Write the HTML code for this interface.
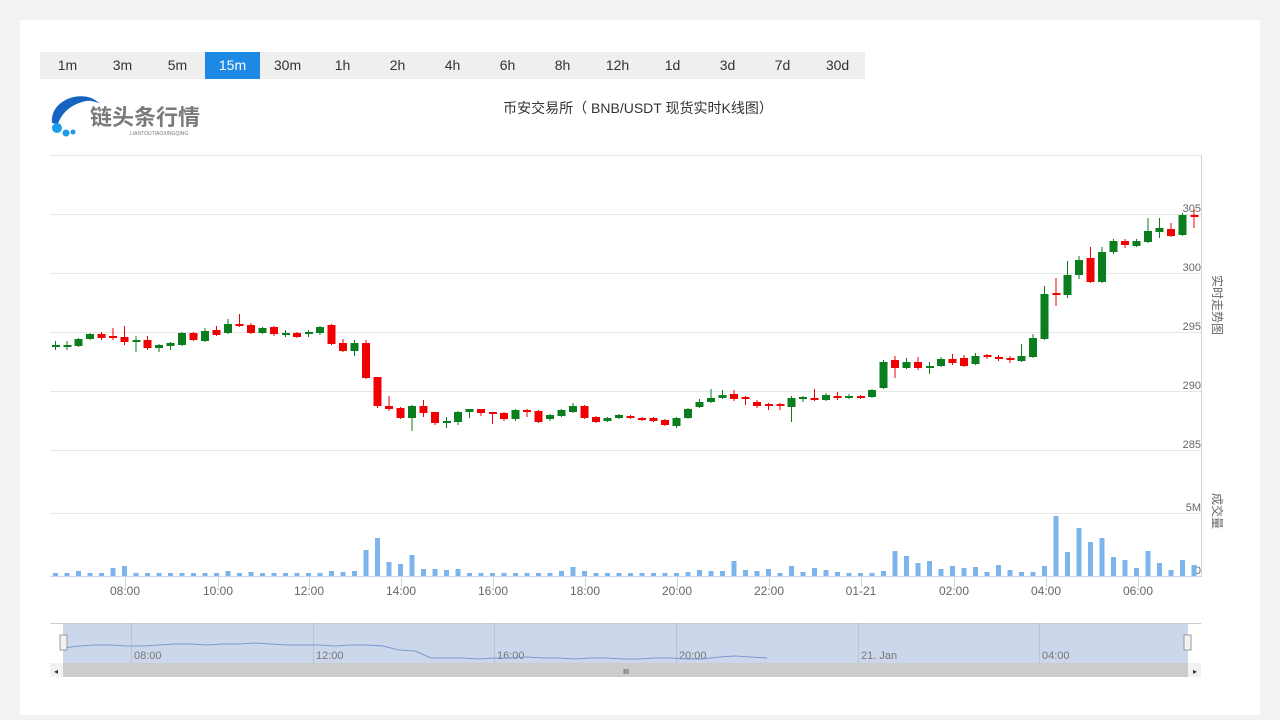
<!DOCTYPE html>
<html><head><meta charset="utf-8">
<style>
body{margin:0;background:#f2f2f2;width:1280px;height:720px;overflow:hidden;font-family:"Liberation Sans","Noto Sans CJK SC",sans-serif;}
#card{position:absolute;left:20px;top:20px;width:1240px;height:695px;background:#fff;}
#btns{position:absolute;left:40px;top:52px;height:27px;width:825px;background:#efefef;}
#btns span{float:left;width:55px;height:27px;line-height:27px;text-align:center;font-size:14px;color:#333;}
#btns span.a{background:#1e88e5;color:#fff;}
svg{position:absolute;left:0;top:0;}
</style></head><body>
<div id="card"></div>
<div id="btns"><span>1m</span><span>3m</span><span>5m</span><span class="a">15m</span><span>30m</span><span>1h</span><span>2h</span><span>4h</span><span>6h</span><span>8h</span><span>12h</span><span>1d</span><span>3d</span><span>7d</span><span>30d</span></div>
<svg id="s" width="1280" height="720" xmlns="http://www.w3.org/2000/svg"></svg>
<script>
var C=[
[346,346,341,350,1],[346,346,341,350,1],[346,339,338,347,1],[339,334,333,340,1],[334,338,332,340,0],[336,338,328,340,0],[337,342,326,345,0],[341,341,336,352,1],[340,348,336,350,0],[348,345,344,352,1],[346,343,342,350,1],[345,333,332,346,1],[333,340,332,341,0],[341,331,328,342,1],[330,335,326,336,0],[333,324,319,334,1],[324,326,314,327,0],[325,333,323,334,0],[333,328,327,334,1],[327,334,326,336,0],[334,334,330,337,1],[333,337,332,338,0],[333,333,330,337,1],[333,327,326,335,1],[325,344,324,345,0],[343,351,339,352,0],[351,343,340,356,1],[343,378,340,379,0],[377,406,377,408,0],[406,409,396,411,0],[408,418,407,419,0],[418,406,405,431,1],[406,413,400,417,0],[412,423,412,425,0],[422,422,417,428,1],[422,412,411,425,1],[412,409,409,418,1],[409,413,409,416,0],[413,414,413,424,0],[413,419,412,421,0],[419,410,409,421,1],[410,412,409,417,0],[411,422,410,423,0],[419,415,414,421,1],[416,410,409,417,1],[412,406,403,413,1],[406,418,405,419,0],[417,422,416,423,0],[421,418,417,422,1],[418,415,414,419,1],[416,418,415,419,0],
[418,420,417,421,0],[418,421,417,422,0],[420,425,419,426,0],[426,418,417,428,1],[418,409,408,419,1],[407,402,399,408,1],[402,398,389,403,1],[398,395,390,399,1],[394,399,390,401,0],[397,399,396,405,0],[402,406,400,408,0],[405,406,403,410,0],[405,406,403,410,0],[407,398,396,422,1],[399,397,396,402,1],[398,400,389,401,0],[400,395,393,401,1],[396,398,392,400,0],[398,396,394,399,1],[397,398,395,399,0],[397,390,389,398,1],[388,362,360,389,1],[360,368,356,378,0],[368,362,358,369,1],[362,368,357,370,0],[367,367,362,374,1],[366,359,357,367,1],[359,363,354,365,0],[358,366,355,367,0],[364,356,353,365,1],[356,357,354,359,0],[358,359,355,361,0],[359,360,356,363,0],[361,356,344,362,1],[357,338,334,358,1],[339,294,286,340,1],[294,295,278,306,0],[295,275,261,298,1],[275,260,256,279,1],[258,282,247,283,0],[282,252,247,283,1],[252,241,239,254,1],[241,245,239,248,0],[246,241,239,247,1],[242,231,218,243,1],[232,228,218,238,1],[229,236,223,237,0],[235,215,213,236,1],[216,217,209,228,0]];
var V=new Array(100).fill(3);
var pk={5:8,6:10,2:5,12:3,15:5,17:4,24:5,25:4,26:5,27:26,28:38,29:14,30:12,31:21,32:7,33:7,34:6,35:7,44:5,45:9,46:5,55:4,56:6,57:5,58:5,59:15,60:6,61:5,62:7,63:3,64:10,65:4,66:8,67:6,68:4,72:5,73:25,74:20,75:13,76:15,77:7,78:10,79:8,80:9,81:4,82:11,83:6,84:4,85:4,86:10,87:60,88:24,89:48,90:34,91:38,92:19,93:16,94:8,95:25,96:13,97:6,98:16,99:11};
for(var k in pk)V[k]=pk[k];
var h='';
function L(x1,y1,x2,y2,c,w){h+='<line x1="'+x1+'" y1="'+y1+'" x2="'+x2+'" y2="'+y2+'" stroke="'+c+'" stroke-width="'+(w||1)+'"/>';}
function T(x,y,t,a,s,c){h+='<text x="'+x+'" y="'+y+'" font-size="'+(s||12)+'" fill="'+(c||'#666')+'" text-anchor="'+(a||'start')+'">'+t+'</text>';}
L(50,155.5,1201,155.5,'#e6e6e6');
[214,273,332,391,450].forEach(function(y){L(50,y+.5,1201,y+.5,'#e6e6e6');});
L(50,513.5,1201,513.5,'#e6e6e6');L(50,576.5,1201,576.5,'#ccd6eb');
L(1201.5,155,1201.5,577,'#c8d4e6');
[['305',212],['300',271],['295',330],['290',389],['285',448]].forEach(function(a){T(1201,a[1],a[0],'end',11);});
T(1201,511,'5M','end',11);T(1201,574,'0','end',11);
h+='<text transform="translate(1213,275) rotate(90)" font-size="12" fill="#666">实时走势图</text>';
h+='<text transform="translate(1213,493) rotate(90)" font-size="12" fill="#666">成交量</text>';
for(var i=0;i<100;i++){var x=55+i*11.5;var c=C[i];var col=c[4]?'#0a7d1e':'#f00000';
 var t=Math.min(c[0],c[1]),b=Math.max(c[0],c[1]);
 L(x+.5,c[2],x+.5,c[3],col,1);
 if(b-t<2){h+='<rect x="'+(x-3)+'" y="'+(t-1)+'" width="8" height="2" fill="'+col+'"/>';}
 else h+='<rect x="'+(x-3.5)+'" y="'+t+'" width="8" height="'+(b-t)+'" fill="'+col+'"/>';
 h+='<rect x="'+(x-2)+'" y="'+(576-V[i])+'" width="5" height="'+V[i]+'" fill="#7cb5ec"/>';}
[['08:00',125],['10:00',218],['12:00',309],['14:00',401],['16:00',493],['18:00',585],['20:00',677],['22:00',769],['01-21',861],['02:00',954],['04:00',1046],['06:00',1138]].forEach(function(a){L(a[1]+.5,577,a[1]+.5,587,'#ccd6eb');T(a[1],595,a[0],'middle',12);});
h+='<rect x="50" y="623" width="1151" height="40" fill="#fff"/><rect x="63" y="623" width="1125" height="40" fill="#cdd7eb"/>';
L(50,623.5,1201,623.5,'#ccc');
[131,313,494,676,858,1039].forEach(function(x){L(x+.5,623,x+.5,663,'#b8c3d8');});
[['08:00',134],['12:00',316],['16:00',497],['20:00',679],['21. Jan',861],['04:00',1042]].forEach(function(a){T(a[1],659,a[0],'start',11,'#777');});
var p='M63,648';var nv=[648,646,645,645,646,646,645,644,644,645,644,644,643,644,645,645,645,646,645,645,646,650,651,658,658,658,659,658,658,657,658,658,659,658,658,659,659,658,658,659,659,657,656,657,658];
for(var j=0;j<nv.length;j++)p+=' L'+(63+j*16)+','+nv[j];
h+='<path d="'+p+'" fill="none" stroke="#7b9ad0" stroke-width="1"/>';
h+='<rect x="60" y="635" width="7" height="15" fill="#f2f2f2" stroke="#999"/><rect x="1184" y="635" width="7" height="15" fill="#f2f2f2" stroke="#999"/>';
h+='<rect x="50" y="663" width="1151" height="14" fill="#f2f2f2"/><rect x="63" y="663" width="1125" height="14" fill="#ccc"/>';
T(56,674,'◂','middle',8,'#333');T(1195,674,'▸','middle',8,'#333');T(626,674,'III','middle',7,'#333');
T(638,113,'币安交易所（ BNB/USDT 现货实时K线图）','middle',14,'#333');
h+='<path d="M52,123 C50,105 70,93 88,97 C93,98 96,101 100,103 C95,102 90,100 86,101 C72,104 62,112 58,124 Z" fill="#1565c0"/>';
h+='<circle cx="57" cy="128" r="5" fill="#1e9be9"/><circle cx="66" cy="133" r="3.5" fill="#1e9be9"/><circle cx="73" cy="132" r="2.5" fill="#1e9be9"/>';
h+='<text x="90" y="125" font-size="22" font-weight="bold" fill="#7a7a7a">链头条行情</text>';T(130,135,'LIANTOUTIAOXINGQING','start',5,'#777');
document.getElementById('s').innerHTML=h;
</script>
</body></html>
